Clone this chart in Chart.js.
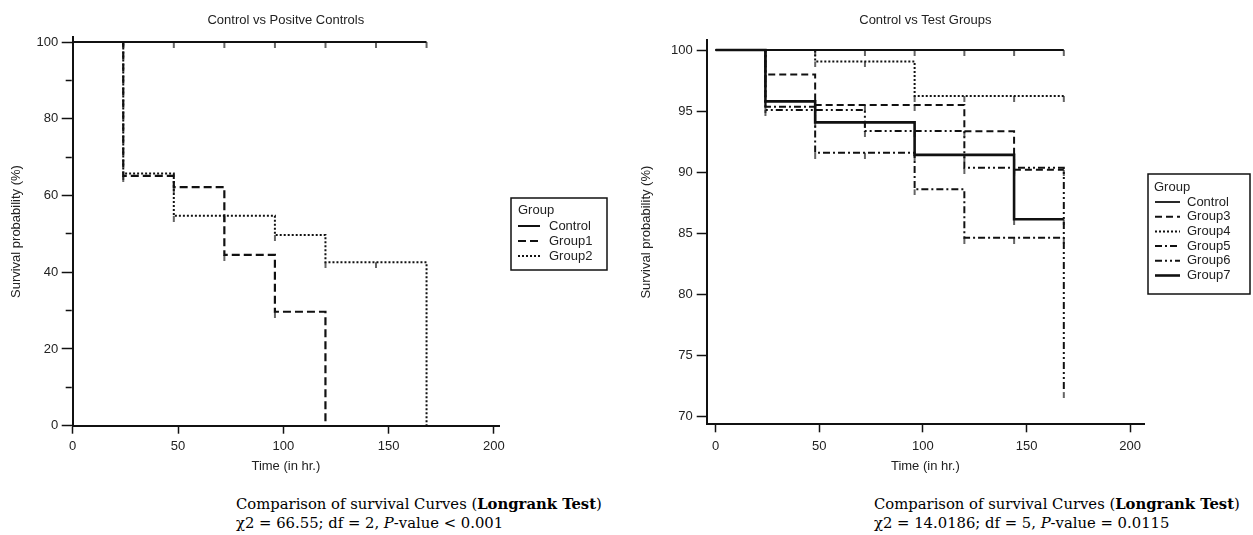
<!DOCTYPE html>
<html><head><meta charset="utf-8">
<script src="https://cdn.jsdelivr.net/npm/chart.js@4.4.1/dist/chart.umd.min.js"></script>
<style>
html,body{margin:0;padding:0;background:#fff}
body{width:1253px;height:535px;overflow:hidden;position:relative}
canvas{position:absolute;top:0}
#c1{left:0}
#c2{left:626px}
.cap{position:absolute;font-family:'DejaVu Serif',serif;font-size:14.8px;line-height:19px;color:#000;white-space:nowrap}
</style></head>
<body>
<canvas id="c1" width="626" height="480"></canvas>
<canvas id="c2" width="627" height="480"></canvas>
<div class="cap" id="cap1" style="left:236px;top:494px"></div>
<div class="cap" id="cap2" style="left:874px;top:494px"></div>
<script>
// ---------- data ----------
const leftTitle = 'Control vs Positve Controls';
const rightTitle = 'Control vs Test Groups';
const xAxisTitle = 'Time (in hr.)';
const yAxisTitle = 'Survival probability (%)';
const legendTitle = 'Group';

// left panel
const leftNames = ['Control', 'Group1', 'Group2'];
const ctrlLeftT = [0, 24, 48, 72, 96, 120, 144, 168];
const ctrlLeftS = [100, 100, 100, 100, 100, 100, 100, 100];
const g1T = [0, 24, 48, 72, 96, 120];
const g1S = [100, 65.1, 62.2, 44.5, 29.7, 0];
const g2T = [0, 24, 48, 72, 96, 120, 144, 168];
const g2S = [100, 65.7, 54.7, 54.7, 49.7, 42.6, 42.6, 0];
const leftXTickLabels = [0, 50, 100, 150, 200];
const leftYTicks = [0, 10, 20, 30, 40, 50, 60, 70, 80, 90, 100];
const leftYTickLabels = [0, 20, 40, 60, 80, 100];

// right panel
const rightNames = ['Control', 'Group3', 'Group4', 'Group5', 'Group6', 'Group7'];
const rightT = [0, 24, 48, 72, 96, 120, 144, 168];
const ctrlRightS = [100, 100, 100, 100, 100, 100, 100, 100];
const g3S = [100, 98.0, 95.5, 95.5, 95.5, 93.35, 90.2, 90.2];
const g4S = [100, 100, 99.07, 99.07, 96.24, 96.24, 96.24, 96.24];
const g5S = [100, 95.36, 91.6, 91.6, 88.6, 84.65, 84.65, 84.65];
const g6S = [100, 95.1, 95.1, 93.37, 93.37, 90.37, 90.37, 72.0];
const g7S = [100, 95.8, 94.08, 94.08, 91.42, 91.42, 86.15, 86.15];
const rightXTickLabels = [0, 50, 100, 150, 200];
const rightYTicks = [70, 75, 80, 85, 90, 95, 100];
const rightYTickLabels = [70, 75, 80, 85, 90, 95, 100];

// captions
const cap1Stats = ['66.55', '2', '< 0.001'];
const cap2Stats = ['14.0186', '5', '= 0.0115'];

// ---------- helpers ----------
const FONT = "'Liberation Sans', Arial, sans-serif";
const TXT = '#222';
const INK = '#111';

function censorMark(len, w) {
  const c = document.createElement('canvas');
  c.width = 4; c.height = len * 2;
  const x = c.getContext('2d');
  x.strokeStyle = INK; x.lineWidth = w;
  x.beginPath(); x.moveTo(2, len); x.lineTo(2, 2 * len); x.stroke();
  return c;
}
const MARK = censorMark(6, 1.3);

function series(label, T, S, dash, width) {
  return {
    label,
    data: T.map((t, i) => ({x: t, y: S[i]})),
    stepped: 'before',
    borderColor: INK,
    borderWidth: width,
    borderDash: dash,
    borderCapStyle: 'butt',
    fill: false,
    pointStyle: MARK,
    pointRadius: S.map((v, i) => (i > 0 && v > 0) ? 3 : 0),
    pointHoverRadius: 0
  };
}

const boxLegend = {
  id: 'boxLegend',
  afterDraw(chart, args, o) {
    const ctx = chart.ctx;
    ctx.save();
    ctx.setLineDash([]);
    ctx.lineWidth = 1.5; ctx.strokeStyle = INK;
    ctx.strokeRect(o.x, o.y, o.w, o.h);
    ctx.font = '13px ' + FONT; ctx.fillStyle = TXT;
    ctx.textBaseline = 'middle'; ctx.textAlign = 'left';
    ctx.fillText(legendTitle, o.titleX, o.titleY);
    chart.data.datasets.forEach((ds, i) => {
      const y = o.itemY + i * o.step;
      ctx.beginPath();
      ctx.setLineDash(ds.borderDash || []);
      ctx.lineWidth = ds.borderWidth; ctx.strokeStyle = ds.borderColor;
      ctx.moveTo(o.sx0, y); ctx.lineTo(o.sx1, y); ctx.stroke();
      ctx.setLineDash([]);
      ctx.fillText(ds.label, o.textX, y);
    });
    ctx.restore();
  }
};

function makeOptions(p) {
  return {
    responsive: false, animation: false, events: [],
    layout: {padding: {left: 0, right: p.padRight, top: 0, bottom: 0}},
    plugins: {
      legend: {display: false},
      tooltip: {enabled: false},
      title: {display: true, text: p.title, fullSize: false, color: TXT,
        font: {family: FONT, size: 13, weight: 'normal', lineHeight: 1.2},
        padding: {top: 12.2, bottom: p.titleBottom}},
      boxLegend: p.legend
    },
    scales: {
      x: {
        type: 'linear', min: p.xMin, max: p.xMax,
        afterBuildTicks: s => { s.ticks = p.xLabels.map(v => ({value: v})); },
        afterFit: s => { s.height = p.xHeight; },
        border: {display: true, width: 2, color: INK},
        grid: {drawOnChartArea: false, drawTicks: true, tickLength: 8, tickWidth: 1.5, tickColor: INK},
        ticks: {padding: p.xPad, color: TXT, maxRotation: 0, autoSkip: false,
          font: {family: FONT, size: 13, lineHeight: 1.2},
          callback: v => String(v)},
        title: {display: true, text: xAxisTitle, color: TXT, font: {family: FONT, size: 13, lineHeight: 1.2},
          padding: {top: 0, bottom: 5.7}}
      },
      y: {
        type: 'linear', min: p.yMin, max: p.yMax,
        afterBuildTicks: s => { s.ticks = p.yTicks.map(v => ({value: v})); },
        afterFit: s => { s.width = p.yWidth; },
        border: {display: true, width: 2, color: INK},
        grid: {drawOnChartArea: false, drawTicks: true, tickLength: p.yTick, tickWidth: 1.5, tickColor: INK,
          tickBorderDash: c => (p.yLabels.includes(c.tick.value) ? [] : [0, p.yTick - 7, 6, 100])},
        ticks: {padding: p.yPad, color: TXT, autoSkip: false,
          font: {family: FONT, size: 13, lineHeight: 1.2},
          callback: v => p.yLabels.includes(v) ? String(v) : ''},
        title: {display: true, text: yAxisTitle, color: TXT, font: {family: FONT, size: 13, lineHeight: 1.2},
          padding: {top: p.yTitlePad, bottom: 0}}
      }
    }
  };
}

// ---------- left chart ----------
new Chart(document.getElementById('c1'), {
  type: 'line',
  data: {datasets: [
    series(leftNames[0], ctrlLeftT, ctrlLeftS, [], 2),
    series(leftNames[1], g1T, g1S, [8, 4], 2.2),
    series(leftNames[2], g2T, g2S, [2, 2], 2)
  ]},
  options: makeOptions({
    title: leftTitle, padRight: 127, titleBottom: 9.6,
    xMin: 0, xMax: 202.4, xHeight: 54.3, xPad: 5.2, xLabels: leftXTickLabels,
    yMin: 0, yMax: 101.2, yWidth: 72.7, yTick: 11, yPad: 3.4, yTicks: leftYTicks, yLabels: leftYTickLabels, yTitlePad: 8.9,
    legend: {x: 511, y: 198, w: 96, h: 72, titleX: 518, titleY: 210, itemY: 226, step: 15, sx0: 518, sx1: 540, textX: 549}
  }),
  plugins: [boxLegend]
});

// ---------- right chart ----------
new Chart(document.getElementById('c2'), {
  type: 'line',
  data: {datasets: [
    series(rightNames[0], rightT, ctrlRightS, [], 1.8),
    series(rightNames[1], rightT, g3S, [7, 4], 2),
    series(rightNames[2], rightT, g4S, [2, 2], 2),
    series(rightNames[3], rightT, g5S, [7, 3, 2, 3], 2),
    series(rightNames[4], rightT, g6S, [7, 3, 2, 3, 2, 3], 2),
    series(rightNames[5], rightT, g7S, [], 2.6)
  ]},
  options: makeOptions({
    title: rightTitle, padRight: 109, titleBottom: 12.2,
    xMin: -4.34, xMax: 206.7, xHeight: 55.7, xPad: 6.6, xLabels: rightXTickLabels,
    yMin: 69.38, yMax: 100.82, yWidth: 80.7, yTick: 10, yPad: 4, yTicks: rightYTicks, yLabels: rightYTickLabels, yTitlePad: 13,
    legend: {x: 522, y: 174, w: 102, h: 120, titleX: 528, titleY: 187, itemY: 202, step: 14.7, sx0: 529, sx1: 554, textX: 561}
  }),
  plugins: [boxLegend]
});

// ---------- captions ----------
function caption(stats) {
  return 'Comparison of survival Curves (<b>Longrank Test</b>)<br>' +
    '\u03C72 = ' + stats[0] + '; df = ' + stats[1] + ', <i>P</i>-value ' + stats[2].replace('<', '&lt;');
}
document.getElementById('cap1').innerHTML = caption(cap1Stats);
document.getElementById('cap2').innerHTML = caption(cap2Stats);
</script>
</body></html>
